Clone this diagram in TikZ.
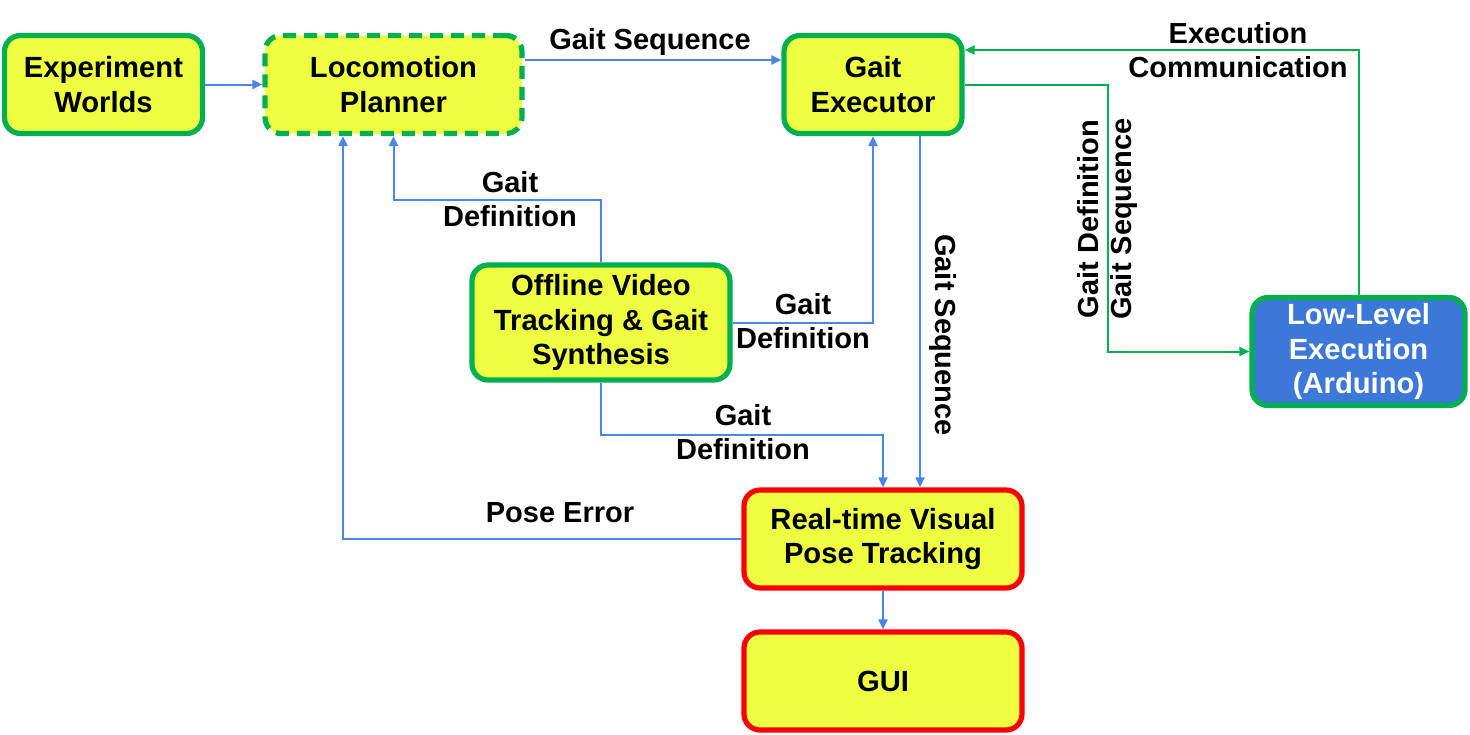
\documentclass[tikz,border=0pt]{standalone}
\usepackage{fontspec}
\setmainfont{Liberation Sans}
\usetikzlibrary{arrows.meta}
\definecolor{boxyellow}{RGB}{238,255,65}
\definecolor{boxgreen}{RGB}{0,176,80}
\definecolor{boxred}{RGB}{255,0,0}
\definecolor{boxblue}{RGB}{60,120,216}
\definecolor{arrblue}{RGB}{74,134,232}
\tikzset{
  box/.style={draw=boxgreen, fill=boxyellow, line width=2.6pt, rounded corners=8pt,
    align=center, inner sep=0pt, font=\bfseries\fontsize{14.6}{17.3}\selectfont},
  redbox/.style={box, draw=boxred},
  lbl/.style={align=center, inner sep=0pt, font=\bfseries\fontsize{14.5}{17}\selectfont},
  bluearrow/.style={draw=arrblue, line width=1pt, -{Triangle[length=5pt,width=4.5pt]}},
  greenarrow/.style={draw=boxgreen, line width=1pt, -{Triangle[length=5pt,width=4.5pt]}}
}
\begin{document}
\begin{tikzpicture}[x=0.5pt,y=-0.5pt]
\useasboundingbox (0,0) rectangle (1470,734);
% nodes
\node[box, minimum width=99pt, minimum height=49pt] (exp) at (103.5,84.5) {Experiment\\Worlds};
\node[box, dash pattern=on 6.5pt off 4pt, minimum width=128.5pt, minimum height=49pt] (loco) at (393.5,84.5) {Locomotion\\Planner};
\node[box, minimum width=89pt, minimum height=49pt] (gexec) at (873,84.5) {Gait\\Executor};
\node[box, minimum width=129pt, minimum height=57.5pt] (offline) at (601,322.5) {Offline Video\\Tracking \& Gait\\Synthesis};
\node[box, fill=boxblue, text=white, minimum width=106.5pt, minimum height=54pt] (low) at (1358.5,351.5) {Low-Level\\Execution\\(Arduino)};
\node[redbox, minimum width=139pt, minimum height=49pt] (rt) at (883,539) {Real-time Visual\\Pose Tracking};
\node[redbox, minimum width=139pt, minimum height=49pt] (gui) at (883,681) {GUI};
% waypoints
\coordinate (w1) at (601,200);
\coordinate (w2) at (601,435);
\coordinate (w3) at (1108,84.5);
% connectors
\draw[bluearrow] (exp.east) -- (loco.west);
\draw[bluearrow] ([yshift=12.25pt]loco.east) -- ([yshift=12.25pt]gexec.west);
\draw[bluearrow] (offline.north) -- (w1) -| (loco.south);
\draw[bluearrow] (rt.west) -| ([xshift=-25.25pt]loco.south);
\draw[bluearrow] (offline.east) -| (gexec.south);
\draw[bluearrow] ([xshift=23.5pt]gexec.south) -- ([xshift=18.5pt]rt.north);
\draw[bluearrow] (offline.south) -- (w2) -| (rt.north);
\draw[bluearrow] (rt.south) -- (gui.north);
\draw[greenarrow] (gexec.east) -- (w3) |- (low.west);
\draw[greenarrow] (low.north) |- ([yshift=17.25pt]gexec.east);
% labels
\node[lbl] (l1) at (650,42) {Gait Sequence};
\node[lbl] (l2) at (510,199) {Gait\\Definition};
\node[lbl] (l3) at (803,321) {Gait\\Definition};
\node[lbl] (l4) at (743,432) {Gait\\Definition};
\node[lbl] (l5) at (560,513) {Pose Error};
\node[lbl, rotate=-90] (l6) at (943,335) {Gait Sequence};
\node[lbl, rotate=90] (l7) at (1088,219) {Gait Definition};
\node[lbl, rotate=90] (l8) at (1124,219) {Gait Sequence};
\node[lbl] (l9) at (1238,50.5) {Execution\\Communication};
\end{tikzpicture}
\end{document}
